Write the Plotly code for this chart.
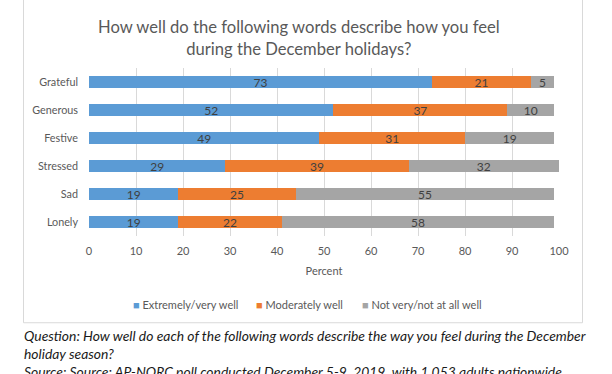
import plotly.graph_objects as go

categories = ["Grateful", "Generous", "Festive", "Stressed", "Sad", "Lonely"]
extremely = [73, 52, 49, 29, 19, 19]
moderately = [21, 37, 31, 39, 25, 22]
not_well = [5, 10, 19, 32, 55, 58]
series_names = ["Extremely/very well", "Moderately well", "Not very/not at all well"]
colors = ["#5B9BD5", "#ED7D31", "#A5A5A5"]
x_ticks = [0, 10, 20, 30, 40, 50, 60, 70, 80, 90, 100]

FONT = "Lato, 'Open Sans', sans-serif"
W, H = 612, 374
L, R, T, B = 89, 53, 68, 137.5
pw, ph = W - L - R, H - T - B

def px(x):
    return (x - L) / pw

def py(y):
    return (H - B - y) / ph

fig = go.Figure()
for name, vals, col in zip(series_names, [extremely, moderately, not_well], colors):
    fig.add_trace(go.Bar(
        y=categories, x=vals, name=name, orientation="h",
        marker=dict(color=col, line=dict(width=0)),
        text=[str(v) for v in vals], textposition="inside", textangle=0,
        insidetextanchor="middle", constraintext="none",
        textfont=dict(family=FONT, size=12, color="#404040"),
        hoverinfo="skip", showlegend=False,
    ))

fig.update_layout(
    width=W, height=H,
    margin=dict(l=L, r=R, t=T, b=B, autoexpand=False),
    barmode="stack", bargap=0.6,
    paper_bgcolor="white", plot_bgcolor="white",
    font=dict(family=FONT, color="#595959"),
    xaxis=dict(
        range=[0, 100], tickvals=x_ticks, showgrid=True, gridcolor="#D9D9D9",
        gridwidth=1, zeroline=False, showline=False, ticks="",
        tickfont=dict(size=11, color="#595959"), ticklabelstandoff=7,
        title=dict(text="Percent", font=dict(size=11, color="#595959"), standoff=11),
        fixedrange=True,
    ),
    yaxis=dict(
        categoryorder="array", categoryarray=categories[::-1],
        showgrid=False, ticks="", ticklen=0, showline=False,
        tickfont=dict(size=10.8, color="#595959"),
        ticklabelstandoff=10, fixedrange=True,
    ),
    showlegend=False,
)

# Chart frame
fig.add_shape(type="rect", xref="paper", yref="paper",
              x0=px(23.5), x1=px(582.5), y0=py(323.5), y1=py(-3),
              line=dict(color="#D9D9D9", width=1), fillcolor="rgba(0,0,0,0)", layer="below")

# Legend (Excel style: small square right before the label)
legend_x = [131, 254, 360]
for name, col, lx in zip(series_names, colors, legend_x):
    fig.add_annotation(
        xref="paper", yref="paper", x=px(lx), y=py(305), xanchor="left", yanchor="middle",
        text=f"<span style='color:{col};font-size:11px'>■</span> {name}",
        showarrow=False, font=dict(family=FONT, size=11, color="#595959"),
    )

fig.add_annotation(
    xref="paper", yref="paper", x=px(299), y=py(38), xanchor="center", yanchor="middle",
    text="How well do the following words describe how you feel<br>during the December holidays?",
    showarrow=False, font=dict(family=FONT, size=16.6, color="#595959"), align="center",
)

footer = ("<i>Question: How well do each of the following words describe the way you feel during the December"
          "<br>holiday season?"
          "<br>Source: Source: AP-NORC poll conducted December 5-9, 2019, with 1,053 adults nationwide.</i>")
fig.add_annotation(
    xref="paper", yref="paper", x=px(22), y=py(326), xanchor="left", yanchor="top",
    text=footer, showarrow=False, align="left",
    font=dict(family=FONT, size=13.9, color="#1a1a1a"),
)

fig.write_html("out.html", config={"displayModeBar": False},
               post_script="document.body.style.margin='0';document.body.style.overflow='hidden';")
